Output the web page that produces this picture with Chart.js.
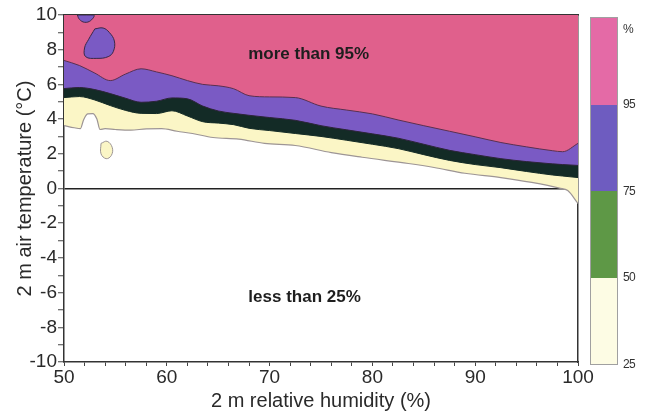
<!DOCTYPE html>
<html>
<head>
<meta charset="utf-8">
<script src="https://cdn.jsdelivr.net/npm/chart.js@4.4.0/dist/chart.umd.min.js"></script>
<style>
  body { margin: 0; background: #fff; }
  #wrap { position: relative; width: 646px; height: 416px; font-family: "Liberation Sans", Arial, sans-serif; }
  #key { position: absolute; left: 590px; top: 17px; width: 26px; border: 1px solid #a0a0a0; }
  #key div { height: 86.5px; }
  .lab { position: absolute; left: 623px; font-size: 12px; color: #333; transform: translateY(-50%); letter-spacing: -0.6px; }
</style>
</head>
<body>
<div id="wrap">
  <canvas id="chart"></canvas>
  <div id="key">
    <div style="background:#e46aa6"></div>
    <div style="background:#6e5cc0"></div>
    <div style="background:#5e9846"></div>
    <div style="background:#fdfce4"></div>
  </div>
  <div class="lab" style="top:29px">%</div>
  <div class="lab" style="top:104px">95</div>
  <div class="lab" style="top:191px">75</div>
  <div class="lab" style="top:277px">50</div>
  <div class="lab" style="top:364px">25</div>
</div>
<script>
// contour lines: relative humidity (%) -> air temperature (°C)
const rh = [50, 51.5, 53, 54.5, 56, 57.5, 59, 60.5, 62, 63.5, 65, 66.5, 68, 70, 72.5, 75, 77.5, 80, 82.5, 85, 87.5, 90, 92.5, 95, 97.5, 98.5, 100];
const t95 = [7.38, 7.09, 6.65, 6.22, 6.60, 6.90, 6.72, 6.50, 6.22, 6.00, 5.92, 5.75, 5.35, 5.28, 5.24, 4.75, 4.52, 4.30, 3.95, 3.62, 3.30, 2.98, 2.65, 2.40, 2.18, 2.12, 2.60];
const t75 = [5.76, 5.82, 5.70, 5.47, 5.20, 4.97, 5.03, 5.22, 5.17, 4.75, 4.47, 4.33, 4.22, 4.09, 3.93, 3.62, 3.38, 3.15, 2.90, 2.55, 2.20, 1.95, 1.72, 1.55, 1.42, 1.38, 1.33];
const t50 = [5.24, 5.30, 5.10, 4.78, 4.50, 4.33, 4.32, 4.48, 4.18, 3.85, 3.77, 3.68, 3.47, 3.34, 3.17, 3.00, 2.78, 2.55, 2.30, 1.95, 1.62, 1.38, 1.20, 0.98, 0.78, 0.72, 0.63];

const rh25 = [50, 51, 51.6, 51.9, 52.3, 52.8, 53.2, 53.5, 54, 55, 56.5, 58, 59.5, 61, 62.5, 64.5, 67, 69.5, 72.5, 76, 79, 83.5, 86, 89, 92.5, 95.5, 98.2, 99, 100];
const t25 = [3.63, 3.50, 3.45, 3.95, 4.30, 4.32, 4.00, 3.40, 3.45, 3.40, 3.36, 3.44, 3.45, 3.30, 3.17, 2.94, 2.85, 2.60, 2.48, 2.07, 1.80, 1.44, 1.21, 0.88, 0.63, 0.35, 0.02, -0.12, -0.86];

// small closed patches [rh, t]
const patchTop = [[51.3, 10], [51.5, 9.75], [52.0, 9.58], [52.6, 9.68], [52.9, 10]];
const patchMid = [[53.0, 9.2], [53.8, 9.25], [54.4, 9.0], [54.9, 8.5], [54.8, 7.9], [54.3, 7.6], [53.2, 7.5], [52.1, 7.6], [52.0, 8.1], [52.4, 8.6]];
const patchLow = [[53.6, 2.6], [54.2, 2.72], [54.7, 2.35], [54.6, 1.9], [54.1, 1.72], [53.6, 2.0]];

const xTicks = [50, 60, 70, 80, 90, 100];
const yTicks = [-10, -8, -6, -4, -2, 0, 2, 4, 6, 8, 10];

const fam = '"Liberation Sans", Arial, sans-serif';
Chart.defaults.font.family = fam;

function pts(xs, ys) {
    return xs.map((x, i) => ({ x: x, y: ys[i] }));
}
function ring(p) {
    const out = p.map(d => ({ x: d[0], y: d[1] }));
    out.push({ x: p[0][0], y: p[0][1] });
    return out;
}

function band(data, fill, line, width, order) {
    return {
        data: data, fill: 'end', backgroundColor: fill, borderColor: line, borderWidth: width,
        pointRadius: 0, cubicInterpolationMode: 'monotone', order: order
    };
}
function patch(data, fill, line, order) {
    return {
        data: ring(data), fill: 'shape', backgroundColor: fill, borderColor: line, borderWidth: 1,
        pointRadius: 0, tension: 0.4, order: order
    };
}

const notes = {
    id: 'notes',
    afterDatasetsDraw(chart) {
        const { ctx, scales: { x, y } } = chart;
        ctx.save();
        ctx.font = 'bold 17px ' + fam;
        ctx.fillStyle = '#1e1e1e';
        ctx.textAlign = 'center';
        ctx.textBaseline = 'middle';
        ctx.fillText('more than 95%', x.getPixelForValue(73.8), y.getPixelForValue(7.72));
        ctx.fillText('less than 25%', x.getPixelForValue(73.4), y.getPixelForValue(-6.28));
        ctx.restore();
    }
};

const edge = { color: '#333', width: 1.5 };

new Chart(document.getElementById('chart'), {
    type: 'line',
    data: {
        datasets: [
            band(pts(rh25, t25), '#fbf6c6', '#9d9595', 1.2, 10),
            band(pts(rh, t50), '#132b26', '#132b26', 1, 9),
            band(pts(rh, t75), '#7a5ac4', '#2c2438', 1, 8),
            band(pts(rh, t95), '#e0608c', '#5a3050', 1, 7),
            patch(patchTop, '#7a5ac4', '#3a2848', 3),
            patch(patchMid, '#7a5ac4', '#3a2848', 2),
            patch(patchLow, '#fbf6c6', '#9d9595', 1)
        ]
    },
    options: {
        responsive: true,
        maintainAspectRatio: false,
        animation: false,
        events: [],
        layout: { padding: 0 },
        plugins: { legend: { display: false }, tooltip: { enabled: false } },
        scales: {
            x: {
                type: 'linear', position: 'bottom', min: 50, max: 100,
                afterFit: s => { s.height = 54; },
                ticks: {
                    stepSize: 2, autoSkip: false, maxRotation: 0, padding: 0, color: '#2a2a2a',
                    font: { size: 19 }, callback: v => xTicks.includes(v) ? v : ''
                },
                grid: { drawOnChartArea: false, tickLength: 4, tickColor: '#444', tickWidth: 1 },
                border: edge,
                title: {
                    display: true, text: '2 m relative humidity (%)', color: '#2a2a2a',
                    font: { size: 20 }, padding: { top: 0, bottom: 3 }
                }
            },
            y: {
                type: 'linear', position: 'left', min: -10, max: 10, z: 1,
                afterFit: s => { s.width = 64; },
                ticks: {
                    stepSize: 1, autoSkip: false, padding: 1, color: '#2a2a2a',
                    font: { size: 19 }, callback: v => yTicks.includes(v) ? v : ''
                },
                grid: {
                    color: c => (c.tick && c.tick.value === 0) ? '#222' : 'rgba(0,0,0,0)',
                    lineWidth: 1.5, tickLength: 6, tickColor: '#444', tickWidth: 1
                },
                border: edge,
                title: {
                    display: true, text: '2 m air temperature (°C)', color: '#2a2a2a',
                    font: { size: 20 }, padding: { top: 13, bottom: 0 }
                }
            },
            x2: {
                type: 'linear', position: 'top', min: 50, max: 100,
                afterFit: s => { s.height = 15; },
                ticks: { display: false }, grid: { display: false }, border: edge
            },
            y2: {
                type: 'linear', position: 'right', min: -10, max: 10,
                afterFit: s => { s.width = 68; },
                ticks: { display: false }, grid: { display: false }, border: edge
            }
        }
    },
    plugins: [notes]
});
</script>
</body>
</html>
